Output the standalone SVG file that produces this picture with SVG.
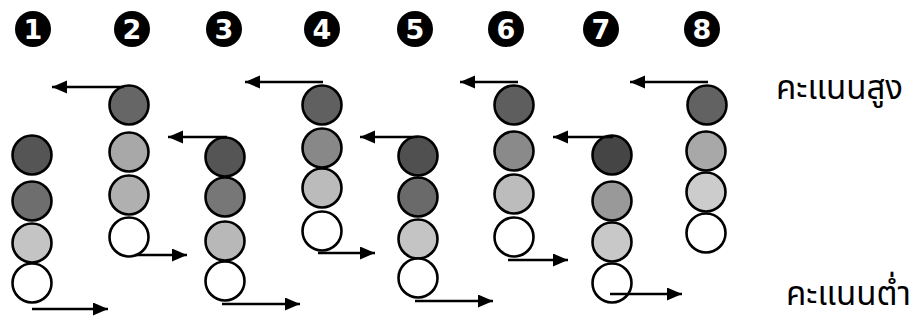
<svg xmlns="http://www.w3.org/2000/svg" width="920" height="320" viewBox="0 0 920 320">
<style>
.ball{stroke:#000;stroke-width:2.6}
.num circle{fill:#000}
.num text{fill:#fff;font-family:"DejaVu Sans",sans-serif;font-weight:bold;font-size:27px;text-anchor:middle}
.arr{stroke:#000;stroke-width:2.6;fill:none;marker-end:url(#ah)}
.lbl{font-family:"Noto Sans Thai","Noto Sans","DejaVu Sans",sans-serif;font-weight:normal;font-size:33px;fill:#000}
</style>
<defs>
<marker id="ah" markerUnits="userSpaceOnUse" markerWidth="18" markerHeight="14" refX="15" refY="6.5" orient="auto">
<path d="M0,0 L15,6.5 L0,13 z" fill="#000"/>
</marker>
</defs>
<rect width="920" height="320" fill="#fff"/>
<g id="numbers" class="num">
<g id="n1"><circle cx="33" cy="29" r="18"/><text x="33" y="38.5">1</text></g>
<g id="n2"><circle cx="132" cy="29" r="18"/><text x="132" y="38.5">2</text></g>
<g id="n3"><circle cx="224" cy="29" r="18"/><text x="224" y="38.5">3</text></g>
<g id="n4"><circle cx="322" cy="29" r="18"/><text x="322" y="38.5">4</text></g>
<g id="n5"><circle cx="415" cy="29" r="18"/><text x="415" y="38.5">5</text></g>
<g id="n6"><circle cx="506" cy="29" r="18"/><text x="506" y="38.5">6</text></g>
<g id="n7"><circle cx="601" cy="29" r="18"/><text x="601" y="38.5">7</text></g>
<g id="n8"><circle cx="702" cy="29" r="18"/><text x="702" y="38.5">8</text></g>
</g>
<g id="col1" class="ball">
<circle cx="32" cy="155" r="19.5" fill="#555"/>
<circle cx="32" cy="201" r="19.5" fill="#6e6e6e"/>
<circle cx="32" cy="243" r="19.5" fill="#c4c4c4"/>
<circle cx="32" cy="283" r="19.5" fill="#fff"/>
</g>
<g id="col2" class="ball">
<circle cx="129" cy="105" r="19.5" fill="#666"/>
<circle cx="129" cy="152" r="19.5" fill="#a8a8a8"/>
<circle cx="129" cy="195" r="19.5" fill="#b0b0b0"/>
<circle cx="129" cy="237" r="19.5" fill="#fff"/>
</g>
<g id="col3" class="ball">
<circle cx="225" cy="157" r="19.5" fill="#555"/>
<circle cx="225" cy="197" r="19.5" fill="#777"/>
<circle cx="225" cy="241" r="19.5" fill="#b8b8b8"/>
<circle cx="225" cy="281" r="19.5" fill="#fff"/>
</g>
<g id="col4" class="ball">
<circle cx="322" cy="105" r="19.5" fill="#606060"/>
<circle cx="322" cy="148" r="19.5" fill="#888"/>
<circle cx="322" cy="188" r="19.5" fill="#bbb"/>
<circle cx="322" cy="231" r="19.5" fill="#fff"/>
</g>
<g id="col5" class="ball">
<circle cx="418" cy="156" r="19.5" fill="#505050"/>
<circle cx="418" cy="197" r="19.5" fill="#6a6a6a"/>
<circle cx="418" cy="239" r="19.5" fill="#c4c4c4"/>
<circle cx="418" cy="278" r="19.5" fill="#fff"/>
</g>
<g id="col6" class="ball">
<circle cx="514" cy="105" r="19.5" fill="#5e5e5e"/>
<circle cx="514" cy="151" r="19.5" fill="#8a8a8a"/>
<circle cx="514" cy="194" r="19.5" fill="#bcbcbc"/>
<circle cx="514" cy="237" r="19.5" fill="#fff"/>
</g>
<g id="col7" class="ball">
<circle cx="612" cy="155" r="19.5" fill="#454545"/>
<circle cx="612" cy="201" r="19.5" fill="#999"/>
<circle cx="612" cy="242" r="19.5" fill="#c8c8c8"/>
<circle cx="612" cy="283" r="19.5" fill="#fff"/>
</g>
<g id="col8" class="ball">
<circle cx="707" cy="105" r="19.5" fill="#626262"/>
<circle cx="706" cy="151" r="19.5" fill="#a8a8a8"/>
<circle cx="706" cy="192" r="19.5" fill="#cccccc"/>
<circle cx="706" cy="233" r="19.5" fill="#fff"/>
</g>
<g id="connectors">
<line class="arr" x1="32" y1="309" x2="108" y2="309"/>
<line class="arr" x1="124" y1="87" x2="52" y2="87"/>
<line class="arr" x1="135" y1="255" x2="187" y2="255"/>
<line class="arr" x1="227" y1="137" x2="168" y2="137"/>
<line class="arr" x1="222" y1="304" x2="300" y2="304"/>
<line class="arr" x1="323" y1="82" x2="245" y2="82"/>
<line class="arr" x1="318" y1="253" x2="375" y2="253"/>
<line class="arr" x1="417" y1="137" x2="360" y2="137"/>
<line class="arr" x1="415" y1="301" x2="493" y2="301"/>
<line class="arr" x1="518" y1="82" x2="460" y2="82"/>
<line class="arr" x1="508" y1="260" x2="568" y2="260"/>
<line class="arr" x1="613" y1="137" x2="553" y2="137"/>
<line class="arr" x1="610" y1="294" x2="682" y2="294"/>
<line class="arr" x1="708" y1="82" x2="630" y2="82"/>
</g>
<g id="labels">
<text id="high" class="lbl" x="776" y="99">คะแนนสูง</text>
<text id="low" class="lbl" x="786" y="305">คะแนนต่ำ</text>
</g>
</svg>
